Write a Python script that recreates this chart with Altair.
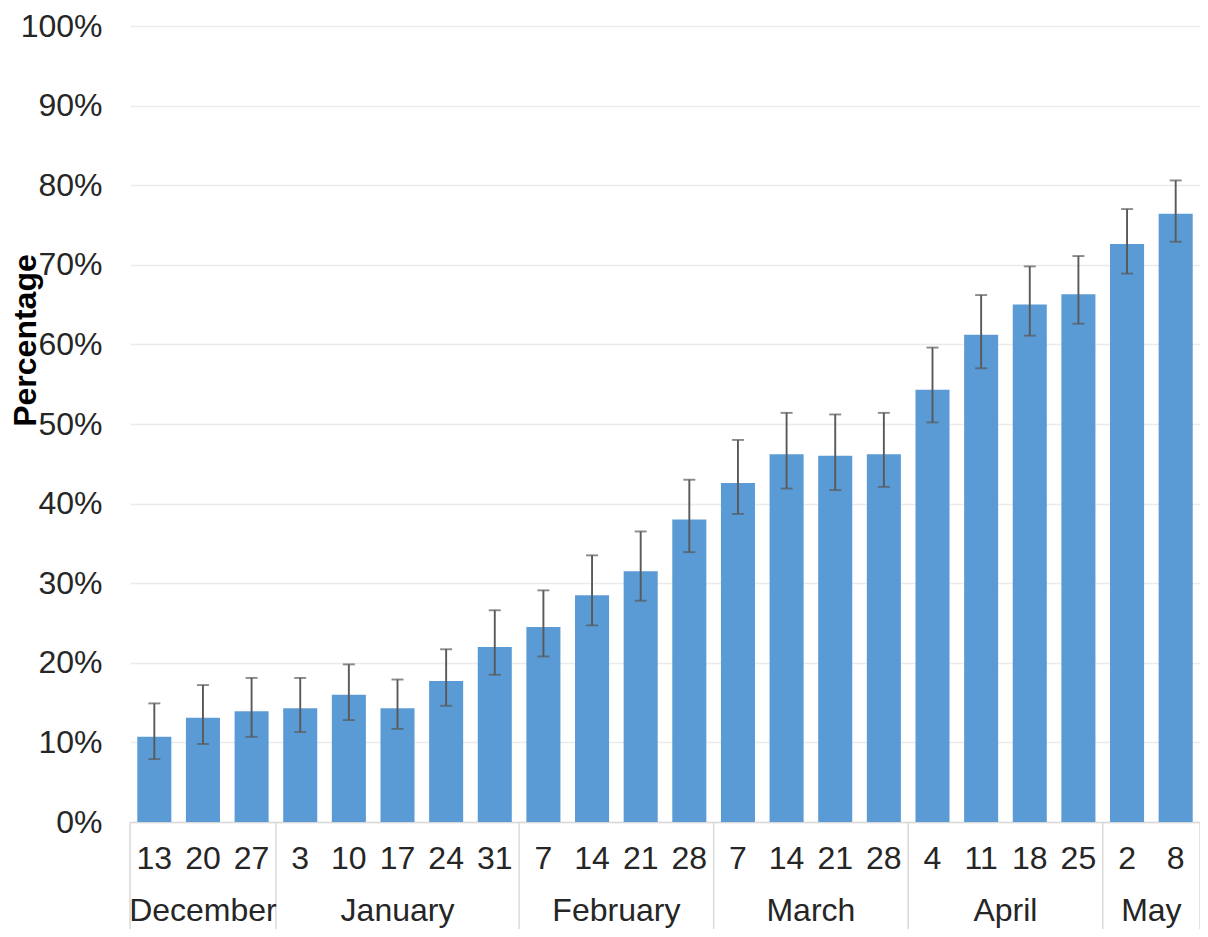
import altair as alt
import pandas as pd

# ---- data ----
days = ["13", "20", "27", "3", "10", "17", "24", "31", "7", "14", "21", "28",
        "7", "14", "21", "28", "4", "11", "18", "25", "2", "8"]
months = (["December"] * 3 + ["January"] * 5 + ["February"] * 4 +
          ["March"] * 4 + ["April"] * 4 + ["May"] * 2)
values = [10.7, 13.1, 13.9, 14.3, 16.0, 14.3, 17.7, 22.0, 24.5, 28.5, 31.5,
          38.0, 42.6, 46.2, 46.0, 46.2, 54.3, 61.2, 65.0, 66.3, 72.6, 76.4]
lows = [7.9, 9.8, 10.7, 11.3, 12.8, 11.7, 14.6, 18.5, 20.8, 24.7, 27.8,
        33.9, 38.7, 41.9, 41.7, 42.1, 50.2, 57.0, 61.1, 62.6, 68.9, 72.9]
highs = [14.9, 17.2, 18.1, 18.1, 19.8, 17.9, 21.7, 26.6, 29.1, 33.5, 36.5,
         43.0, 48.0, 51.4, 51.2, 51.4, 59.6, 66.2, 69.8, 71.1, 77.0, 80.6]
y_ticks = list(range(0, 101, 10))

FONT = "Liberation Sans"
W, H = 1070, 796
BAR = "#5B9BD5"
ERR = "#595959"
LINE = "#d9d9d9"
TXT = "#262626"
FS = 32

keys = [f"{m[:3]} {d}" for m, d in zip(months, days)]
df = pd.DataFrame({"key": keys, "day": days, "month": months,
                   "value": values, "low": lows, "high": highs})

# month groups (derived from the months list)
grp = []
start = 0
for i in range(1, len(months) + 1):
    if i == len(months) or months[i] != months[start]:
        grp.append({"month": months[start], "start": start, "end": i,
                    "mid": (start + i) / 2})
        start = i
mdf = pd.DataFrame(grp)
bounds = pd.DataFrame({"b": [0] + list(mdf["end"])})

xband = alt.X("key:N", sort=keys,
              scale=alt.Scale(paddingInner=0.3, paddingOuter=0.15),
              axis=alt.Axis(title=None, labelAngle=0, ticks=False, tickSize=0,
                            labelPadding=36, labelBaseline="middle",
                            labelExpr="split(datum.label, ' ')[1]",
                            labelFont=FONT, labelFontSize=FS, labelColor=TXT,
                            domainColor=LINE, domainWidth=1.5, grid=False))
yscale = alt.Scale(domain=[0, 100], nice=False)

base = alt.Chart(df)

bars = base.mark_bar(color=BAR).encode(
    x=xband,
    y=alt.Y("value:Q", scale=yscale,
            axis=alt.Axis(values=y_ticks, labelExpr="datum.value + '%'",
                          title="Percentage", titleFont=FONT, titleFontSize=FS,
                          titleFontWeight="bold", titleColor="#000000",
                          titleX=-105, titleY=314, titleAngle=270,
                          titleAlign="center", titleBaseline="middle",
                          labelFont=FONT, labelFontSize=FS, labelColor=TXT,
                          labelPadding=28, ticks=False, tickSize=0,
                          domain=False, grid=True, gridColor="#ebebeb",
                          gridWidth=1.5)),
)

err = base.mark_rule(color=ERR, strokeWidth=1.9).encode(
    x=alt.X("key:N", sort=keys), y=alt.Y("low:Q", scale=yscale), y2="high:Q")
cap_lo = base.mark_tick(color=ERR, size=12, thickness=1.9).encode(
    x=alt.X("key:N", sort=keys), y=alt.Y("low:Q", scale=yscale))
cap_hi = base.mark_tick(color=ERR, size=12, thickness=1.9).encode(
    x=alt.X("key:N", sort=keys), y=alt.Y("high:Q", scale=yscale))

main = alt.layer(bars, err, cap_lo, cap_hi)

xq = alt.Scale(domain=[0, len(days)], nice=False, zero=False)
seps = alt.Chart(bounds).mark_rule(color=LINE, strokeWidth=1.5).encode(
    x=alt.X("b:Q", scale=xq, axis=None),
    y=alt.value(H), y2=alt.value(H + 107))
mlabels = alt.Chart(mdf).mark_text(font=FONT, fontSize=FS, color=TXT,
                                   baseline="middle", align="center").encode(
    x=alt.X("mid:Q", scale=xq, axis=None),
    y=alt.value(H + 89), text="month:N")

chart = alt.layer(main, seps, mlabels).resolve_scale(x="independent").properties(
    width=W, height=H,
    padding={"left": 122, "top": 18, "right": 0, "bottom": 107},
    autosize=alt.AutoSizeParams(type="none"),
).configure_view(stroke=None)

chart.save("out.html", embed_options={"renderer": "svg", "actions": False})
